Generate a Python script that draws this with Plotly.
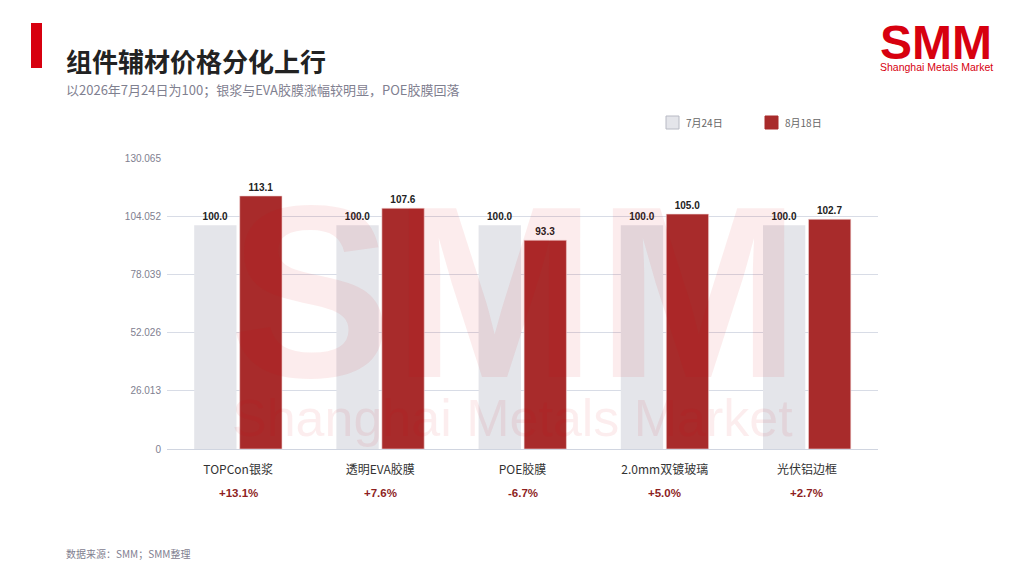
import plotly.graph_objects as go

# 数据
categories = ["TOPCon银浆", "透明EVA胶膜", "POE胶膜", "2.0mm双镀玻璃", "光伏铝边框"]
price_0724 = [100.0, 100.0, 100.0, 100.0, 100.0]
price_0818 = [113.1, 107.6, 93.3, 105.0, 102.7]
series_names = ["7月24日", "8月18日"]
y_ticks = [0, 26.013, 52.026, 78.039, 104.052, 130.065]
y_tick_labels = ["0", "26.013", "52.026", "78.039", "104.052", "130.065"]

CJK = "Noto Sans CJK SC"
GREY_BAR = "#E4E5EA"
RED_BAR = "#A82B2B"
SMM_RED = "#D7000F"

# 页面 body 自带 8px 边距，图按页面像素定位时扣掉
O = 8
L, R, T, B = 167, 878, 158, 449
def px(x):
    return (x - L) / (R - L)
def py(y):
    return (B - y) / (B - T)

fig = go.Figure()
fig.add_trace(go.Bar(
    x=categories, y=price_0724, name=series_names[0],
    marker=dict(color=GREY_BAR, line=dict(width=0)),
    text=[f"<b>{v:.1f}</b>" for v in price_0724], textposition="outside",
    textfont=dict(family="Liberation Sans", size=10, color="#222222"),
    cliponaxis=False,
))
fig.add_trace(go.Bar(
    x=categories, y=price_0818, name=series_names[1],
    marker=dict(color=RED_BAR, line=dict(color="#F2D6D6", width=0.6)),
    text=[f"<b>{v:.1f}</b>" for v in price_0818], textposition="outside",
    textfont=dict(family="Liberation Sans", size=10, color="#222222"),
    cliponaxis=False,
))

annotations = []

# 涨跌幅标签
for cat, a, b in zip(categories, price_0724, price_0818):
    chg = (b / a - 1) * 100
    annotations.append(dict(
        x=cat, xref="x", y=py(493), yref="paper", text=f"<b>{chg:+.1f}%</b>",
        showarrow=False, font=dict(family="Liberation Sans", size=11.5, color="#8E1F1F"),
        xanchor="center", yanchor="middle",
    ))

# 标题、副标题、来源
annotations += [
    dict(x=px(64), y=py(60), xref="paper", yref="paper", text="<b>组件辅材价格分化上行</b>",
         showarrow=False, xanchor="left", yanchor="middle",
         font=dict(family=CJK, size=26, color="#222222")),
    dict(x=px(64), y=py(90), xref="paper", yref="paper",
         text="以2026年7月24日为100；银浆与EVA胶膜涨幅较明显，POE胶膜回落",
         showarrow=False, xanchor="left", yanchor="middle",
         font=dict(family=CJK, size=13, color="#7F8090")),
    dict(x=px(64), y=py(553), xref="paper", yref="paper", text="数据来源：SMM；SMM整理",
         showarrow=False, xanchor="left", yanchor="middle",
         font=dict(family=CJK, size=10, color="#7F8090")),
    # 右上角 logo
    dict(x=px(936), y=py(42), xref="paper", yref="paper", text="<b>SMM</b>",
         showarrow=False, xanchor="center", yanchor="middle",
         font=dict(family="Liberation Sans", size=48, color=SMM_RED)),
    dict(x=px(936), y=py(67), xref="paper", yref="paper", text="Shanghai Metals Market",
         showarrow=False, xanchor="center", yanchor="middle",
         font=dict(family="Liberation Sans", size=10.5, color=SMM_RED)),
    # 水印
    dict(x=px(515), y=py(292), xref="paper", yref="paper", text="<b>SMM</b>",
         showarrow=False, xanchor="center", yanchor="middle",
         font=dict(family="Liberation Sans", size=245, color="rgba(215,0,15,0.075)")),
    dict(x=px(512), y=py(418), xref="paper", yref="paper", text="Shanghai Metals Market",
         showarrow=False, xanchor="center", yanchor="middle",
         font=dict(family="Liberation Sans", size=52, color="rgba(215,0,15,0.07)")),
]

shapes = [
    dict(type="rect", xref="paper", yref="paper", x0=px(31), x1=px(42), y0=py(23), y1=py(68),
         fillcolor=SMM_RED, line=dict(width=0)),
]

# 自绘图例
legend_x = [666, 765]
legend_colors = [GREY_BAR, RED_BAR]
legend_lines = ["#B8BAC4", RED_BAR]
for name, lx, c, lc in zip(series_names, legend_x, legend_colors, legend_lines):
    shapes.append(dict(type="rect", xref="paper", yref="paper",
                       x0=px(lx), x1=px(lx + 13), y0=py(116), y1=py(129),
                       fillcolor=c, line=dict(color=lc, width=1)))
    annotations.append(dict(x=px(lx + 18), y=py(122), xref="paper", yref="paper", text=name,
                            showarrow=False, xanchor="left", yanchor="middle",
                            font=dict(family=CJK, size=10, color="#666666")))

fig.update_layout(
    width=1024 - O, height=576 - O,
    margin=dict(l=L - O, r=1024 - R, t=T - O, b=576 - B, pad=0),
    paper_bgcolor="white", plot_bgcolor="white",
    barmode="group", bargap=0.36, bargroupgap=0.07,
    showlegend=False,
    xaxis=dict(showgrid=False, showline=False, ticks="", ticklabelstandoff=12,
               tickfont=dict(family=CJK, size=12, color="#333333")),
    yaxis=dict(range=[0, 130.065], tickvals=y_ticks, ticktext=y_tick_labels,
               showgrid=True, gridcolor="#D8DCE6", gridwidth=1,
               zeroline=True, zerolinecolor="#D0D5E0", zerolinewidth=1,
               showline=False, ticks="", ticklabelstandoff=5,
               tickfont=dict(family="Liberation Sans", size=10, color="#808090")),
    annotations=annotations,
    shapes=shapes,
)

fig.write_html("out.html")
